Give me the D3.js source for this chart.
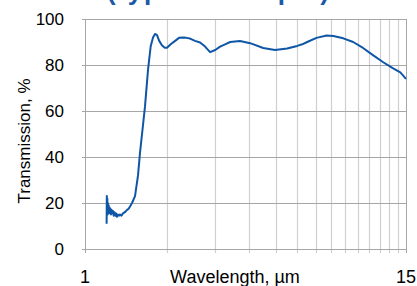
<!DOCTYPE html>
<head>
  <meta charset="utf-8">
  <script src="https://d3js.org/d3.v7.min.js"></script>
  <style>
    body { margin:0; background:#fff; overflow:hidden; }
    text { font-family: "Liberation Sans", "DejaVu Sans", sans-serif; fill:#000; }
  </style>
</head>
<body>
<script>

/* Data */
/* ==== */

// wavelength (µm) and transmission (%)
var wavelength = [1.200, 1.202, 1.204, 1.207, 1.210, 1.213, 1.217, 1.221, 1.225, 1.230, 1.235, 1.240,
  1.246, 1.252, 1.259, 1.266, 1.274, 1.282, 1.290, 1.299, 1.308, 1.318, 1.330, 1.344, 1.360, 1.378,
  1.400, 1.426, 1.445, 1.462, 1.487, 1.525, 1.564, 1.591, 1.618, 1.659, 1.702, 1.740, 1.775, 1.805,
  1.836, 1.870, 1.916, 1.960, 1.997, 2.060, 2.139, 2.210, 2.286, 2.350, 2.426, 2.530, 2.640, 2.754,
  2.872, 3.000, 3.126, 3.260, 3.403, 3.697, 4.027, 4.497, 4.970, 5.503, 5.988, 6.250, 6.517, 7.049,
  7.680, 8.126, 8.838, 9.606, 10.44, 11.35, 12.34, 13.41, 14.30, 15.0];
var transmission = [11, 23, 16, 22, 15, 20, 16, 19, 15.5, 18, 16.5, 17.5,
  15, 17, 15.5, 16.5, 14.5, 16, 14.5, 15.5, 14, 15, 14.5, 15, 14.5, 15.5,
  16, 17, 17.5, 18.5, 20, 23, 32, 42, 50, 62, 78, 88, 92, 93.5,
  93, 90.5, 88.5, 87.5, 87.5, 89, 90.5, 91.8, 92, 91.8, 91.5, 90.5, 89.8, 88,
  85.6, 86.5, 88, 89, 90, 90.4, 89.5, 87.4, 86.5, 87.2, 88.3, 89, 90, 91.8,
  92.8, 92.6, 91.6, 90, 87.4, 84.3, 81.3, 78.6, 76.8, 74];

var yTicks = [0, 20, 40, 60, 80, 100];
var xGrid = d3.range(1, 16);
var xLabels = [1, 15];

var title = "(typical sample)";
var xTitle = "Wavelength, \u00b5m";
var yTitle = "Transmission, %";


/* Set up */
/* ====== */

var width = 417,
    height = 286,
    margin = { top: 19, right: 11, bottom: 37, left: 85 };

var svg = d3.select('body')
  .append('svg')
    .attr('width', width)
    .attr('height', height);

var x = d3.scaleLog()
    .domain([1, 15])
    .range([margin.left, width - margin.right]);

var y = d3.scaleLinear()
    .domain([0, 100])
    .range([height - margin.bottom, margin.top]);


// gridlines

svg.selectAll('.vgrid')
    .data(xGrid.slice(1, -1))
    .enter()
  .append('line')
    .attr('x1', d => Math.round(x(d)) + 0.5)
    .attr('x2', d => Math.round(x(d)) + 0.5)
    .attr('y1', y(100))
    .attr('y2', y(0) + 4)
    .attr('stroke', '#cfcfcf')
    .attr('stroke-width', 1.2);

svg.selectAll('.hgrid')
    .data(yTicks)
    .enter()
  .append('line')
    .attr('x1', x(1) - 3)
    .attr('x2', x(15))
    .attr('y1', d => Math.round(y(d)) + 0.5)
    .attr('y2', d => Math.round(y(d)) + 0.5)
    .attr('stroke', '#a6a6a6')
    .attr('stroke-width', 1);

// axis lines
svg.append('line')
    .attr('x1', Math.round(x(1)) + 0.5).attr('x2', Math.round(x(1)) + 0.5)
    .attr('y1', y(100)).attr('y2', y(0) + 4)
    .attr('stroke', '#a6a6a6');

svg.append('line')
    .attr('x1', Math.round(x(15)) + 0.5).attr('x2', Math.round(x(15)) + 0.5)
    .attr('y1', y(100)).attr('y2', y(0) + 4)
    .attr('stroke', '#a6a6a6');


// tick labels

svg.selectAll('.ylab')
    .data(yTicks)
    .enter()
  .append('text')
    .attr('x', 64)
    .attr('y', d => y(d) + 6)
    .attr('text-anchor', 'end')
    .style('font-size', '17px')
    .text(d => d);

svg.selectAll('.xlab')
    .data(xLabels)
    .enter()
  .append('text')
    .attr('x', d => x(d))
    .attr('y', 283)
    .attr('text-anchor', 'middle')
    .style('font-size', '18px')
    .text(d => d);

svg.append('text')
    .attr('x', 235)
    .attr('y', 283)
    .attr('text-anchor', 'middle')
    .style('font-size', '18px')
    .text(xTitle);

svg.append('text')
    .attr('transform', 'translate(30,' + 141 + ') rotate(-90)')
    .attr('text-anchor', 'middle')
    .style('font-size', '17px')
    .text(yTitle);

// title, mostly cut off by the top edge
svg.append('text')
    .attr('x', 107)
    .attr('y', 0)
    .attr('textLength', 222)
    .style('font-size', '26px')
    .style('font-weight', 'bold')
    .style('fill', '#1a5aa6')
    .text(title);


// the curve

var line = d3.line()
    .x((d, i) => x(wavelength[i]))
    .y(d => y(d))
    .curve(d3.curveLinear);

svg.append('path')
    .datum(transmission)
    .attr('d', line)
    .attr('fill', 'none')
    .attr('stroke', '#0f56a6')
    .attr('stroke-width', 2)
    .attr('stroke-linejoin', 'round');

</script>
</body>
